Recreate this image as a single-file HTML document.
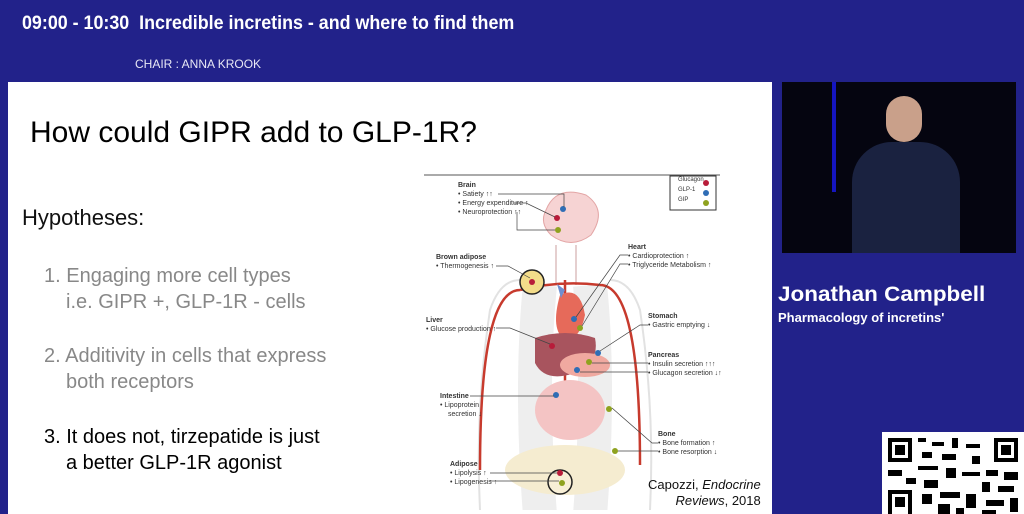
<!DOCTYPE html>
<html><head><meta charset="utf-8"><style>
body{margin:0;width:1024px;height:514px;background:#22228a;position:relative;overflow:hidden;font-family:"Liberation Sans",sans-serif}
.a{position:absolute;white-space:nowrap}
.slide{position:absolute;left:8px;top:82px;width:764px;height:432px;background:#fff}
.s{font-size:20px;color:#888}
</style></head><body>
<div class="a" style="left:22px;top:13px;color:#fff;font-weight:bold;font-size:19px;transform:scaleX(.94);transform-origin:left">09:00 - 10:30 &nbsp;Incredible incretins - and where to find them</div>
<div class="a" style="left:135px;top:57px;color:#e8e8f5;font-size:12px">CHAIR : ANNA KROOK</div>
<div class="slide"></div>
<div class="a" style="left:30px;top:116px;font-size:30px;color:#000">How could GIPR add to GLP-1R?</div>
<div class="a" style="left:22px;top:205px;font-size:22px;color:#111">Hypotheses:</div>
<div class="a s" style="left:44px;top:265px">1. Engaging more cell types</div>
<div class="a s" style="left:66px;top:291px">i.e. GIPR +, GLP-1R - cells</div>
<div class="a s" style="left:44px;top:345px">2. Additivity in cells that express</div>
<div class="a s" style="left:66px;top:371px">both receptors</div>
<div class="a" style="left:44px;top:426px;font-size:20px;color:#000">3. It does not, tirzepatide is just</div>
<div class="a" style="left:66px;top:452px;font-size:20px;color:#000">a better GLP-1R agonist</div>
<svg class="a" style="left:420px;top:170px" width="310" height="340">
<line x1="4" y1="5" x2="300" y2="5" stroke="#555"/>
<path d="M120 115 q-10 100 0 230 M170 115 q10 100 0 230" stroke="#eee" stroke-width="34" fill="none"/>
<path d="M100 110 q-20 0 -30 30 q-15 100 -10 200 M190 110 q20 0 30 30 q15 100 10 200" stroke="#e2e2e2" stroke-width="2" fill="none"/>
<rect x="250" y="6" width="46" height="34" fill="#fff" stroke="#333"/>
<circle cx="286" cy="13" r="3" fill="#b81c3a"/><circle cx="286" cy="23" r="3" fill="#2f6db5"/><circle cx="286" cy="33" r="3" fill="#8fa21f"/>
<path d="M126 40 q10-25 40-15 q22 15 5 40 q-20 15 -40 0 q-12-12 -5-25z" fill="#f6d3d3" stroke="#e3a5a5"/>
<path d="M136 75 v40 M156 75 v40" stroke="#e5cfcf" stroke-width="2" fill="none"/>
<path d="M100 120 q-40 0 -40 180 M180 115 q40 0 40 180 M145 110 v110 M100 120 q40-10 80-5" stroke="#c73a2d" stroke-width="2.5" fill="none"/>
<circle cx="112" cy="112" r="12" fill="#f3dc8a" stroke="#222" stroke-width="1.5"/>
<path d="M140 125 q20-10 25 20 q-5 25 -20 25 q-15-10 -5-45z" fill="#e66a5a"/>
<path d="M145 120 l-8 -6 l4 14z" fill="#6f8fd0"/>
<path d="M115 168 q30-10 60 0 q5 25 -20 35 q-30 10 -40-10z" fill="#a8545e"/>
<ellipse cx="165" cy="195" rx="25" ry="12" fill="#f0a9a0"/>
<ellipse cx="150" cy="240" rx="35" ry="30" fill="#f4c4c4"/>
<ellipse cx="145" cy="300" rx="60" ry="25" fill="#f5ecd0"/>
<circle cx="140" cy="312" r="12" fill="#f8efd6" stroke="#222" stroke-width="1.5"/>
<g font-family="Liberation Sans" font-size="7" fill="#333">
<text x="38" y="17" font-weight="bold">Brain</text><text x="38" y="26">• Satiety ↑↑</text><text x="38" y="35">• Energy expenditure ↑</text><text x="38" y="44">• Neuroprotection ↑↑</text>
<text x="16" y="89" font-weight="bold">Brown adipose</text><text x="16" y="98">• Thermogenesis ↑</text>
<text x="208" y="79" font-weight="bold">Heart</text><text x="208" y="88">• Cardioprotection ↑</text><text x="208" y="97">• Triglyceride Metabolism ↑</text>
<text x="6" y="152" font-weight="bold">Liver</text><text x="6" y="161">• Glucose production ↑</text>
<text x="228" y="148" font-weight="bold">Stomach</text><text x="228" y="157">• Gastric emptying ↓</text>
<text x="228" y="187" font-weight="bold">Pancreas</text><text x="228" y="196">• Insulin secretion ↑↑↑</text><text x="228" y="205">• Glucagon secretion ↓↑</text>
<text x="20" y="228" font-weight="bold">Intestine</text><text x="20" y="237">• Lipoprotein</text><text x="28" y="246">secretion ↓</text>
<text x="238" y="266" font-weight="bold">Bone</text><text x="238" y="275">• Bone formation ↑</text><text x="238" y="284">• Bone resorption ↓</text>
<text x="30" y="296" font-weight="bold">Adipose</text><text x="30" y="305">• Lipolysis ↑</text><text x="30" y="314">• Lipogenesis ↑</text>
<text x="258" y="11" font-size="6">Glucagon</text><text x="258" y="21" font-size="6">GLP-1</text><text x="258" y="31" font-size="6">GIP</text>
</g>
<g fill="#b81c3a"><circle cx="137" cy="48" r="3"/><circle cx="112" cy="112" r="3"/><circle cx="132" cy="176" r="3"/><circle cx="140" cy="303" r="3"/></g>
<g fill="#2f6db5"><circle cx="143" cy="39" r="3"/><circle cx="154" cy="149" r="3"/><circle cx="178" cy="183" r="3"/><circle cx="136" cy="225" r="3"/><circle cx="157" cy="200" r="3"/></g>
<g fill="#8fa21f"><circle cx="138" cy="60" r="3"/><circle cx="160" cy="158" r="3"/><circle cx="189" cy="239" r="3"/><circle cx="195" cy="281" r="3"/><circle cx="142" cy="313" r="3"/><circle cx="169" cy="192" r="3"/></g>
<g stroke="#444" stroke-width=".7" fill="none"><path d="M78 24 H144 V37 M94 33 H106 L135 47 M97 42 V60 H135 M76 96 H88 L110 108 M208 85 H200 L156 147 M208 94 H200 L162 156 M76 158 H90 L130 174 M228 155 H220 L180 181 M228 193 H172 M228 202 H160 M50 226 H134 M238 273 H232 L192 238 M238 281 H198 M70 303 H137 M70 311 H139"/></g>
</svg>
<div class="a" style="left:648px;top:477px;font-size:13px;color:#111;text-align:right;line-height:16px">Capozzi, <i>Endocrine</i><br>&nbsp;&nbsp;&nbsp;&nbsp;<i>Reviews</i>, 2018</div>
<div class="a" style="left:782px;top:82px;width:234px;height:171px;background:#050510">
<div class="a" style="left:50px;top:0;width:4px;height:110px;background:#1515c0"></div>
<div class="a" style="left:70px;top:60px;width:108px;height:111px;background:#1a2240;border-radius:40px 40px 0 0"></div>
<div class="a" style="left:104px;top:14px;width:36px;height:46px;background:#c9a08a;border-radius:18px"></div>
</div>
<div class="a" style="left:778px;top:283px;color:#fff;font-weight:bold;font-size:21px;transform:scaleX(1.07);transform-origin:left">Jonathan Campbell</div>
<div class="a" style="left:778px;top:310px;color:#fff;font-weight:bold;font-size:13px">Pharmacology of incretins'</div>
<svg class="a" style="left:882px;top:432px" width="142" height="82">
<rect width="142" height="82" fill="#fff"/>
<g fill="#000">
<rect x="6" y="6" width="24" height="24"/><rect x="10" y="10" width="16" height="16" fill="#fff"/><rect x="13" y="13" width="10" height="10"/>
<rect x="112" y="6" width="24" height="24"/><rect x="116" y="10" width="16" height="16" fill="#fff"/><rect x="119" y="13" width="10" height="10"/>
<rect x="6" y="58" width="24" height="24"/><rect x="10" y="62" width="16" height="20" fill="#fff"/><rect x="13" y="65" width="10" height="10"/>
<rect x="36" y="6" width="8" height="4"/><rect x="50" y="10" width="12" height="4"/><rect x="70" y="6" width="6" height="10"/><rect x="84" y="12" width="14" height="4"/><rect x="40" y="20" width="10" height="6"/><rect x="60" y="22" width="14" height="6"/><rect x="90" y="24" width="8" height="8"/><rect x="36" y="34" width="20" height="4"/><rect x="6" y="38" width="14" height="6"/><rect x="64" y="36" width="10" height="10"/><rect x="80" y="40" width="18" height="4"/><rect x="104" y="38" width="12" height="6"/><rect x="122" y="40" width="14" height="8"/><rect x="24" y="46" width="10" height="6"/><rect x="42" y="48" width="14" height="8"/><rect x="100" y="50" width="8" height="10"/><rect x="116" y="54" width="16" height="6"/><rect x="40" y="62" width="10" height="10"/><rect x="58" y="60" width="20" height="6"/><rect x="84" y="62" width="10" height="14"/><rect x="104" y="68" width="18" height="6"/><rect x="128" y="66" width="8" height="14"/><rect x="56" y="72" width="12" height="10"/><rect x="74" y="76" width="8" height="6"/><rect x="100" y="78" width="14" height="4"/>
</g></svg>
</body></html>
